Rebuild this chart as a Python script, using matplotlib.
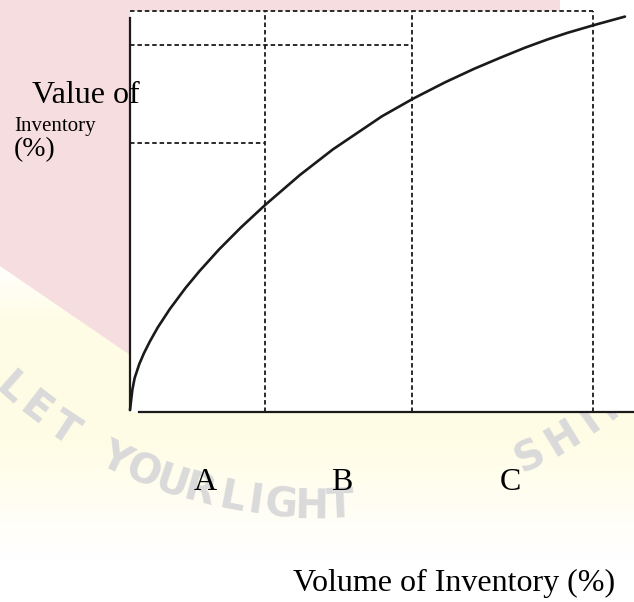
import numpy as np
import matplotlib
matplotlib.use("Agg")
import matplotlib.pyplot as plt
from matplotlib.patches import Polygon

# ABC analysis curve (volume % vs value %)
volume = [0, 0.5, 1, 2, 3, 4.3, 6, 8.6, 12, 15, 19.2, 24, 29.2, 36.7, 43.8,
          54.4, 61.1, 68, 74.3, 80, 85.3, 90, 94.4, 100, 106.9]
value = [0, 5, 8, 11.5, 14.2, 17.2, 20.7, 25.3, 30.6, 34.8, 40.2, 45.8, 51.4, 58.9, 65.3,
         73.6, 78.0, 82.1, 85.5, 88.3, 90.8, 92.8, 94.5, 96.4, 98.6]

# class boundaries on the volume axis (A | B | C) and guide levels on the value axis
class_edges = [29.2, 60.9, 100]
guide_levels = [66.9, 91.5, 100]
guide_ends = [29.2, 60.9, 100]
class_labels = ["A", "B", "C"]
class_label_px = [205, 342, 510]

# watermark letters with their angle (deg) on the arc
wm_letters = list("LETYOURLIGHTSHINE")
wm_angles = [131.6, 127.6, 123.4, 116.0, 112.2, 108.5, 105.0, 100.9, 98.0, 94.7,
             91.0, 87.6, 63.3, 58.6, 54.6, 50.8, 46.7]

W, H = 634, 602
INK = "#1a1a1a"
SERIF = ["Liberation Serif", "DejaVu Serif"]

fig = plt.figure(figsize=(W / 100, H / 100), dpi=100)
fig.patch.set_facecolor("white")

# faint background watermark
bg = fig.add_axes([0, 0, 1, 1], zorder=0)
bg.set_xlim(0, W); bg.set_ylim(H, 0); bg.axis("off")
ramp = np.concatenate([np.linspace(0, 1, 60), np.ones(120), np.linspace(1, 0, 120)])
glow = np.ones((ramp.size, 1, 3))
glow[:, 0, 2] = 1 - 0.1 * ramp
glow[:, 0, 1] = 1 - 0.01 * ramp
bg.imshow(glow, extent=(0, W, 560, 260), aspect="auto", interpolation="bilinear")
bg.add_patch(Polygon([(0, 0), (560, 0), (560, 11), (130, 11), (130, 355), (0, 266)],
                     closed=True, color="#f6dde0", lw=0))
bg.set_xlim(0, W); bg.set_ylim(H, 0)
cx, cy, r = 320, 40, 467
for ch, a in zip(wm_letters, wm_angles):
    t = np.radians(a)
    bg.text(cx + r * np.cos(t), cy + r * np.sin(t), ch, rotation=90 - a,
            ha="center", va="center", fontsize=29, fontweight="bold",
            color="#dadada", family="DejaVu Sans")

# main chart
x_hi = (W - 130) / 463 * 100
ax = fig.add_axes([130 / W, (H - 412) / H, (W - 130) / W, 401 / H], zorder=1)
ax.set_facecolor("white")
ax.set_xlim(0, x_hi)
ax.set_ylim(-0.5, 100)

dash = (0, (2.5, 1.6))
ax.vlines(class_edges, -0.5, 100, colors=INK, linestyles=dash, lw=1.3, clip_on=False)
ax.hlines(guide_levels, 0, guide_ends, colors=INK, linestyles=dash, lw=1.3, clip_on=False)
ax.plot(volume, value, color=INK, lw=1.9, solid_capstyle="round",
        solid_joinstyle="round", clip_on=False)

for sp in ("top", "right"):
    ax.spines[sp].set_visible(False)
ax.spines["left"].set_bounds(0, 98.2)
ax.spines["bottom"].set_bounds(1.9, x_hi)
for sp in ("left", "bottom"):
    ax.spines[sp].set_color(INK)
    ax.spines[sp].set_linewidth(1.6)
ax.set_xticks([]); ax.set_yticks([])


def ftext(px, py, s, **kw):
    fig.text(px / W, 1 - py / H, s, family=SERIF, color="black", zorder=3, **kw)


ftext(32, 103, "Value of", fontsize=23, va="baseline")
ftext(14, 131, "Inventory", fontsize=15, va="baseline")
ftext(14, 156, "(%)", fontsize=20, va="baseline")
for lab, px in zip(class_labels, class_label_px):
    ftext(px, 490, lab, fontsize=23, ha="center", va="baseline")
ftext(293, 591, "Volume of Inventory (%)", fontsize=23, va="baseline")

fig.savefig("out.png", dpi=100, facecolor=fig.get_facecolor())
